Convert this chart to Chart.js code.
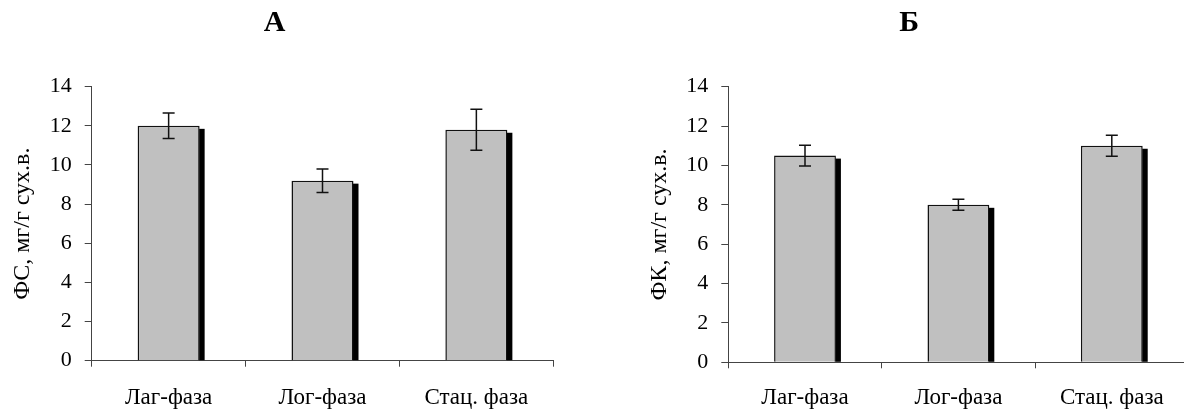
<!DOCTYPE html>
<html>
<head>
<meta charset="utf-8">
<script src="https://cdn.jsdelivr.net/npm/chart.js@4"></script>
<style>
html, body { margin:0; padding:0; background:#fff; overflow:hidden; }
body { width:1184px; height:412px; position:relative; }
.box { position:absolute; top:0; height:412px; }
</style>
</head>
<body>
<div class="box" style="left:-4px;width:559px"><canvas id="chartA"></canvas></div>
<div class="box" style="left:630px;width:566px"><canvas id="chartB"></canvas></div>
<script>
// data
const phases = ['Лаг-фаза', 'Лог-фаза', 'Стац. фаза'];
const valuesA = [12.0, 9.2, 11.8];
const errorsA = [0.65, 0.6, 1.05];
const valuesB = [10.5, 8.0, 11.0];
const errorsB = [0.53, 0.28, 0.53];
const yMin = 0, yMax = 14, yStep = 2;

const serif = 'Liberation Serif, Times New Roman, serif';
const axisColor = '#444';

// black drop shadow on the right side of each bar
const shadowPlugin = {
  id: 'barShadow',
  beforeDatasetsDraw(chart) {
    const ctx = chart.ctx;
    ctx.save();
    ctx.fillStyle = '#000';
    chart.getDatasetMeta(0).data.forEach(b => {
      const right = b.x + b.width / 2;
      ctx.fillRect(right - 0.5, b.y + 3, 5.5, b.base - b.y - 3);
    });
    ctx.restore();
  }
};

// error bars from the errors array given in plugin options
const errPlugin = {
  id: 'errBars',
  afterDatasetsDraw(chart, args, opts) {
    const ctx = chart.ctx, y = chart.scales.y;
    const vals = chart.data.datasets[0].data;
    ctx.save();
    ctx.strokeStyle = '#111';
    ctx.lineWidth = 1.5;
    chart.getDatasetMeta(0).data.forEach((b, i) => {
      const hi = y.getPixelForValue(vals[i] + opts.err[i]);
      const lo = y.getPixelForValue(vals[i] - opts.err[i]);
      ctx.beginPath();
      ctx.moveTo(b.x, hi); ctx.lineTo(b.x, lo);
      ctx.moveTo(b.x - 6, hi); ctx.lineTo(b.x + 6, hi);
      ctx.moveTo(b.x - 6, lo); ctx.lineTo(b.x + 6, lo);
      ctx.stroke();
    });
    ctx.restore();
  }
};

function mkChart(id, title, yTitle, values, errors, o) {
  return new Chart(document.getElementById(id), {
    type: 'bar',
    data: {
      labels: phases,
      datasets: [{
        data: values,
        backgroundColor: '#c0c0c0',
        borderColor: '#111',
        borderWidth: 1.5,
        categoryPercentage: 1,
        barPercentage: 0.403
      }]
    },
    plugins: [shadowPlugin, errPlugin],
    options: {
      responsive: true,
      maintainAspectRatio: false,
      animation: false,
      layout: { padding: { left: 0, right: o.padRight, top: 0, bottom: 0 } },
      plugins: {
        legend: { display: false },
        tooltip: { enabled: false },
        title: {
          display: true, text: title, color: '#000',
          font: { family: serif, size: 30, weight: 'bold' },
          padding: { top: 5.5, bottom: 45.2 }
        },
        errBars: { err: errors }
      },
      scales: {
        x: {
          grid: { offset: true, drawOnChartArea: false, drawTicks: true, tickLength: 6, color: axisColor },
          border: { color: axisColor, width: 1 },
          ticks: { font: { family: serif, size: 23 }, color: '#000', padding: o.xPad, maxRotation: 0, autoSkip: false },
          afterFit(s) { s.height = o.xHeight; }
        },
        y: {
          min: yMin, max: yMax,
          grid: { drawOnChartArea: false, tickLength: 7, color: axisColor },
          border: { color: axisColor, width: 1 },
          ticks: { stepSize: yStep, font: { family: serif, size: 22 }, color: '#000', padding: 13 },
          title: { display: true, text: yTitle, font: { family: serif, size: 24 }, color: '#000', padding: { top: o.yTitlePad, bottom: 0 } },
          afterFit(s) { s.width = o.yWidth; }
        }
      }
    }
  });
}

mkChart('chartA', 'А', 'ФС, мг/г сух.в.', valuesA, errorsA,
  { padRight: 1.7, xHeight: 51.3, xPad: 17.5, yWidth: 95.7, yTitlePad: 12.6 });
mkChart('chartB', 'Б', 'ФК, мг/г сух.в.', valuesB, errorsB,
  { padRight: 7.5, xHeight: 49.7, xPad: 15.9, yWidth: 98.3, yTitlePad: 15.6 });
</script>
</body>
</html>
